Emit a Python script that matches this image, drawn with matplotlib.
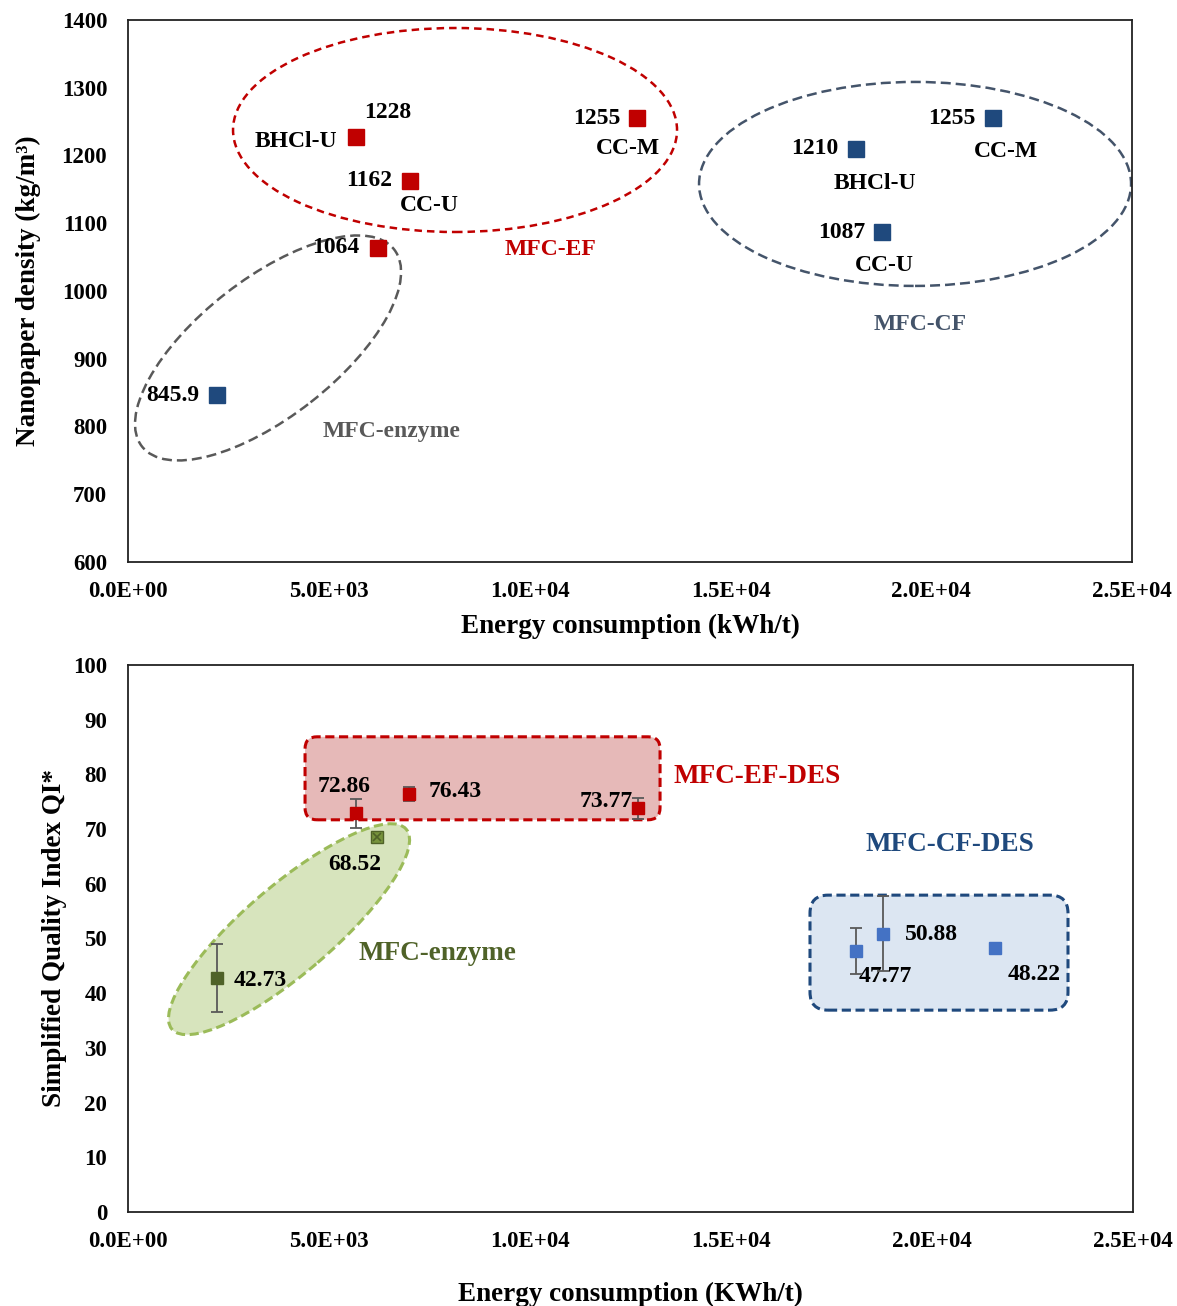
import matplotlib
matplotlib.use("Agg")
import matplotlib.pyplot as plt
from matplotlib.patches import Ellipse, FancyBboxPatch
from matplotlib.transforms import Affine2D, ScaledTranslation

plt.rcParams['font.family'] = ['Liberation Serif', 'DejaVu Serif']
plt.rcParams['font.weight'] = 'bold'

# ---- top panel: nanopaper density ----
ef_energy = [5677, 7022, 6225, 12674]
ef_density = [1228, 1162, 1064, 1255]
cf_energy = [2216, 18127, 18775, 21539]
cf_density = [845.9, 1210, 1087, 1255]

# ---- bottom panel: quality index ----
ef_des_energy = [5672, 6990, 12687]
ef_des_qi = [72.86, 76.43, 73.77]
ef_des_err = [2.7, 1.3, 2.0]
enz_energy = [2214, 6194]
enz_qi = [42.73, 68.52]
enz_err = [6.2, 0.0]
cf_des_energy = [18109, 18781, 21567]
cf_des_qi = [47.77, 50.88, 48.22]
cf_des_err = [4.2, 6.9, 0.0]

xticks = [0, 5000, 10000, 15000, 20000, 25000]
xtick_labels = ['0.0E+00', '5.0E+03', '1.0E+04', '1.5E+04', '2.0E+04', '2.5E+04']

RED = '#C00000'
NAVY = '#1F497D'
BLUE = '#4472C4'
OLIVE = '#4F6228'
LBL = 17

fig = plt.figure(figsize=(11.77, 13.06), dpi=100)
ax1 = fig.add_axes([0.1088, 0.5697, 0.8530, 0.4150])
ax2 = fig.add_axes([0.1088, 0.0720, 0.8538, 0.4188])


def px_at(ax, x, y):
    # pixel-unit drawing space anchored at a data point
    return Affine2D() + ScaledTranslation(x, y, ax.transData)


def label(ax, txt, x, y, dx, dy, ha='center', size=LBL, color='black'):
    ax.annotate(txt, (x, y), xytext=(dx, dy), textcoords='offset pixels',
                ha=ha, va='center', fontsize=size, fontweight='bold', color=color)


for ax in (ax1, ax2):
    ax.set_xlim(0, 25000)
    ax.set_xticks(xticks)
    ax.set_xticklabels(xtick_labels)
    ax.tick_params(length=0, labelsize=16.5)
    ax.tick_params(axis='x', pad=14)
    ax.tick_params(axis='y', pad=15)
    for s in ax.spines.values():
        s.set_linewidth(1.3)
        s.set_color('#222222')

# ---------------- top ----------------
ax1.set_ylim(600, 1400)
ax1.set_yticks(range(600, 1401, 100))

ax1.add_patch(Ellipse((0, 0), 444, 204, fill=False, ec=RED, lw=1.8, ls=(0, (3, 2)),
                      transform=px_at(ax1, 8142, 1237.6)))
ax1.add_patch(Ellipse((0, 0), 432, 204, fill=False, ec='#44546A', lw=1.8, ls=(0, (4, 2)),
                      transform=px_at(ax1, 19597, 1158)))
ax1.add_patch(Ellipse((0, 0), 320, 138, angle=38, fill=False, ec='#595959', lw=1.8,
                      ls=(0, (4, 2)), transform=px_at(ax1, 3486, 915.9)))

ax1.plot(ef_energy, ef_density, 's', color=RED, ms=11, zorder=5)
ax1.plot(cf_energy, cf_density, 's', color=NAVY, ms=11, zorder=5)

label(ax1, '1228', 5677, 1228, 32, 24)
label(ax1, 'BHCl-U', 5677, 1228, -19, -5, ha='right')
label(ax1, '1162', 7022, 1162, -18, 1, ha='right')
label(ax1, 'CC-U', 7022, 1162, 19, -24)
label(ax1, '1064', 6225, 1064, -19, 0, ha='right')
label(ax1, '1255', 12674, 1255, -17, 0, ha='right')
label(ax1, 'CC-M', 12674, 1255, -9, -30)
label(ax1, '845.9', 2216, 845.9, -18, 0, ha='right')
label(ax1, '1210', 18127, 1210, -18, 0, ha='right')
label(ax1, 'BHCl-U', 18127, 1210, 19, -35)
label(ax1, '1087', 18775, 1087, -17, 0, ha='right')
label(ax1, 'CC-U', 18775, 1087, 2, -33)
label(ax1, '1255', 21539, 1255, -18, 0, ha='right')
label(ax1, 'CC-M', 21539, 1255, 13, -33)

ax1.text(10508, 1060.5, 'MFC-EF', color=RED, fontsize=17, ha='center', va='center')
ax1.text(19721, 949.8, 'MFC-CF', color='#44546A', fontsize=17, ha='center', va='center')
ax1.text(6549, 791.9, 'MFC-enzyme', color='#595959', fontsize=17, ha='center', va='center')

ax1.set_xlabel('Energy consumption (kWh/t)', fontsize=19.5, fontweight='bold')
ax1.set_ylabel('Nanopaper density (kg/m³)', fontsize=19.5, fontweight='bold')
ax1.xaxis.set_label_coords(0.5, -0.096)
ax1.yaxis.set_label_coords(-0.087, 0.5)

# ---------------- bottom ----------------
ax2.set_ylim(0, 100)
ax2.set_yticks(range(0, 101, 10))

ax2.add_patch(FancyBboxPatch((0, 0), 355, 83, boxstyle='round,pad=0,rounding_size=12',
                             fc='#E6B9B8', ec=RED, lw=2.2, ls=(0, (3, 1.5)),
                             transform=px_at(ax2, 4403, 71.7), zorder=1))
ax2.add_patch(FancyBboxPatch((0, 0), 258, 115, boxstyle='round,pad=0,rounding_size=18',
                             fc='#DCE6F2', ec=NAVY, lw=2.2, ls=(0, (3, 1.5)),
                             transform=px_at(ax2, 16965, 36.9), zorder=1))
ax2.add_patch(Ellipse((0, 0), 308, 88, angle=40.5, fc='#D7E4BD', ec='#9BBB59', lw=2.2,
                      ls=(0, (3, 1.5)), transform=px_at(ax2, 4005, 51.7), zorder=1))

ebar = dict(fmt='s', ms=8, ecolor='#595959', elinewidth=1.3, capsize=4, capthick=1.3, zorder=5)
ax2.errorbar(ef_des_energy, ef_des_qi, yerr=ef_des_err, color=RED, **ebar)
ax2.errorbar(cf_des_energy, cf_des_qi, yerr=cf_des_err, color=BLUE, **ebar)
ax2.errorbar(enz_energy[:1], enz_qi[:1], yerr=enz_err[:1], color=OLIVE, **ebar)
ax2.plot(enz_energy[1:], enz_qi[1:], 's', ms=8, mfc='#77933C', mec=OLIVE, zorder=5)
ax2.plot(enz_energy[1:], enz_qi[1:], 'x', ms=6, color=OLIVE, mew=1.2, zorder=6)

label(ax2, '72.86', 5672, 72.86, -12, 27)
label(ax2, '76.43', 6990, 76.43, 20, 2, ha='left')
label(ax2, '73.77', 12687, 73.77, -5, 7, ha='right')
label(ax2, '68.52', 6194, 68.52, -22, -27)
label(ax2, '42.73', 2214, 42.73, 17, -2, ha='left')
label(ax2, '50.88', 18781, 50.88, 22, -1, ha='left')
label(ax2, '47.77', 18109, 47.77, 29, -26)
label(ax2, '48.22', 21567, 48.22, 39, -26)

ax2.text(13557, 79.7, 'MFC-EF-DES', color=RED, fontsize=19.5, ha='left', va='center')
ax2.text(20448, 67.1, 'MFC-CF-DES', color=NAVY, fontsize=19.5, ha='center', va='center')
ax2.text(7687, 47.3, 'MFC-enzyme', color=OLIVE, fontsize=19.5, ha='center', va='center')

ax2.set_xlabel('Energy consumption (KWh/t)', fontsize=19.5, fontweight='bold')
ax2.set_ylabel('Simplified Quality Index QI*', fontsize=19.5, fontweight='bold')
ax2.xaxis.set_label_coords(0.5, -0.127)
ax2.yaxis.set_label_coords(-0.061, 0.5)

fig.savefig('out.png', dpi=100)
